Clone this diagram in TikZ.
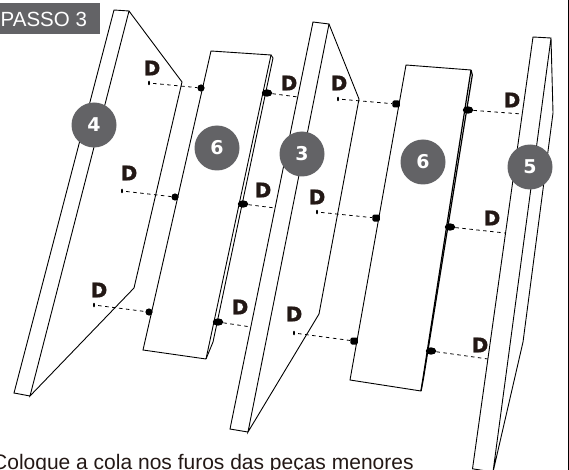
\documentclass[tikz,border=0pt]{standalone}
\usepackage{fontspec}
\setmainfont{Liberation Sans}
\newfontfamily\labelfont[FakeBold=1.6]{DejaVu Sans}
\newfontfamily\digitfont{DejaVu Sans}
\definecolor{badge}{HTML}{636366}
\definecolor{ink}{HTML}{231815}
\usetikzlibrary{shapes.geometric}
\tikzset{
  edge/.style={draw=black,line width=0.9pt,line join=miter},
  heavyedge/.style={draw=black,line width=1.2pt,line join=miter},
  badgeno/.style={circle,fill=badge,text=white,minimum size=45pt,inner sep=0pt,font=\fontsize{19}{19}\digitfont\bfseries},
  dlabel/.style={text=ink,inner sep=0pt,font=\fontsize{20}{20}\labelfont\bfseries},
  hole/.style={ellipse,fill=black,minimum width=2pt,minimum height=4.5pt,inner sep=0pt},
  dotl/.style={circle,fill=black,minimum size=7.2pt,inner sep=0pt},
  dotr/.style={ellipse,fill=black,minimum width=10.5pt,minimum height=7.4pt,inner sep=0pt},
  dotm/.style={rectangle,rounded corners=1.5pt,fill=black,minimum width=7.5pt,minimum height=7pt,inner sep=0pt},
  pin/.style={draw=black,line width=0.8pt,dash pattern=on 3.5pt off 3.5pt},
  pinhole/.style={pin,shorten <=3pt},
}
\begin{document}
\begin{tikzpicture}[x=1pt,y=-1pt]
\useasboundingbox (0,0) rectangle (569,470);
\clip (0,0) rectangle (569,470);
% frame line at the right
\draw[line width=1pt] (568.3,0) -- (568.3,470);
% piece 4
\draw[edge] (30,396) -- (14,393) -- (114,10) -- (129,11) -- (30,396) -- (134,288) -- (182,82) -- (129,11);
% left panel 6
\draw[edge] (206,359) -- (143,350) -- (211,51) -- (271,55) -- (206,359);
\draw[edge] (271,55) -- (273,58) -- (213,342) -- (206,359);
% piece 3
\draw[edge] (248,432) -- (230,429) -- (313,22) -- (329,24) -- (248,432) -- (319,314) -- (359,99) -- (329,24);
% right panel 6
\draw[edge] (421,391) -- (350,380) -- (406,65) -- (471,70);
\draw[heavyedge] (471,70) -- (421,391);
\draw[heavyedge] (471,70) -- (472.3,75) -- (423.5,378) -- (421,391);
% piece 5
\draw[edge] (493,472) -- (472.5,468.8) -- (533,37) -- (551,38) -- (493,472) -- (523,342) -- (553,113) -- (551,38);
% row connectors, first group
\node[hole] (ha) at (149,83) {};
\node[dotl] (pa) at (201,88) {};
\node[hole] (hb) at (122,191) {};
\node[dotl] (pb) at (175,197) {};
\node[hole] (hc) at (94,305) {};
\node[dotl] (pc) at (149,312) {};
\draw[pinhole] (ha) -- (pa);
\draw[pinhole] (hb) -- (pb);
\draw[pinhole] (hc) -- (pc);
% second group
\node[dotr] (qa) at (267,93) {};
\coordinate (ra) at (298,97);
\node[dotr] (qb) at (243,204) {};
\coordinate (rb) at (275,208);
\node[dotr] (qc) at (218,322) {};
\coordinate (rc) at (251,327);
\draw[pin] (qa) -- (ra);
\draw[pin] (qb) -- (rb);
\draw[pin] (qc) -- (rc);
% third group
\node[hole] (sa) at (338,99) {};
\node[dotm] (ta) at (396,104) {};
\node[hole] (sb) at (317,212) {};
\node[dotm] (tb) at (376,218) {};
\node[hole] (sc) at (294,333) {};
\node[dotm] (tc) at (354,341) {};
\draw[pinhole] (sa) -- (ta);
\draw[pinhole] (sb) -- (tb);
\draw[pinhole] (sc) -- (tc);
% fourth group
\node[dotr] (ua) at (468,110) {};
\coordinate (va) at (522,114);
\node[dotr] (ub) at (450,227) {};
\coordinate (vb) at (505,233);
\node[dotr] (uc) at (431,351) {};
\coordinate (vc) at (488,359);
\draw[pin] (ua) -- (va);
\draw[pin] (ub) -- (vb);
\draw[pin] (uc) -- (vc);
% D labels
\node[dlabel] (d1) at (152,68) {D};
\node[dlabel] (d2) at (129,173) {D};
\node[dlabel] (d3) at (99,290) {D};
\node[dlabel] (d4) at (289,83) {D};
\node[dlabel] (d5) at (263,190) {D};
\node[dlabel] (d6) at (240,307) {D};
\node[dlabel] (d7) at (339,83) {D};
\node[dlabel] (d8) at (317,197) {D};
\node[dlabel] (d9) at (294,314) {D};
\node[dlabel] (d10) at (512,100) {D};
\node[dlabel] (d11) at (492,218) {D};
\node[dlabel] (d12) at (480,345) {D};
% number badges
\node[badgeno] (n4) at (94,125) {4};
\node[badgeno] (n6a) at (217,148) {6};
\node[badgeno] (n3) at (302,154) {3};
\node[badgeno] (n6b) at (423,162) {6};
\node[badgeno] (n5) at (530,167) {5};
% title
\fill[badge] (0,3) rectangle (100,34);
\node[text=white,anchor=base west,inner sep=0pt,font=\fontsize{20.5}{20.5}\selectfont] (title) at (0.5,26.5) {PASSO 3};
% caption
\node[anchor=base west,inner sep=0pt,text=ink,font=\fontsize{21}{21}\selectfont] (cap) at (-8,469.5) {Coloque a cola nos furos das peças menores};
\end{tikzpicture}
\end{document}
